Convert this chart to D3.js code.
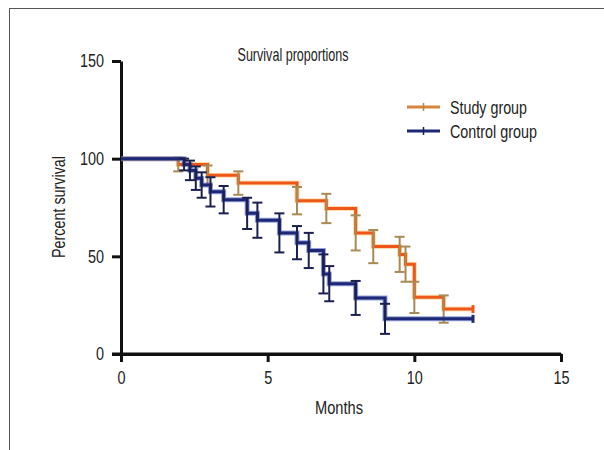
<!DOCTYPE html>
<html>
<head>
<meta charset="utf-8">
<script src="https://cdn.jsdelivr.net/npm/d3@7/dist/d3.min.js"></script>
<style>
  html, body { margin: 0; padding: 0; background: #fff; }
  svg { display: block; }
  text { font-family: "Liberation Sans", Arial, sans-serif; fill: #222; }
</style>
</head>
<body>
<script>
// ---- data ----
const xTicks = [0, 5, 10, 15];
const yTicks = [0, 50, 100, 150];
const seriesNames = ["Study group", "Control group"];

// Study group: step times (months), survival (%) after step, error (±)
const studyTimes = [1.95, 2.95, 4.0, 6.0, 7.0, 8.0, 8.6, 9.5, 9.7, 10.0, 11.0];
const studySurv  = [97, 91.5, 87.5, 78.5, 74.5, 62, 55, 51, 46, 29, 23];
const studyErr   = [3.5, 5, 6, 7, 7.5, 9, 8.5, 9, 9, 8, 7];
const studyEnd = 12;

// Control group
const ctrlTimes = [2.15, 2.35, 2.55, 2.75, 3.05, 3.5, 4.3, 4.65, 5.4, 6.0, 6.4, 6.9, 7.1, 8.0, 9.0];
const ctrlSurv  = [97, 94, 90, 86.5, 83, 79, 72, 68.5, 62, 57, 53, 41, 36, 28.7, 18];
const ctrlErr   = [3, 5, 6, 6.5, 7.5, 7, 8, 9, 10, 8.5, 9, 10, 9, 8.7, 7.7];
const ctrlEnd = 12;

// ---- layout ----
const W = 604, H = 450;
const svg = d3.select("body").append("svg").attr("width", W).attr("height", H);

svg.append("rect").attr("x", 9.5).attr("y", 8.5).attr("width", 640).attr("height", 480)
  .attr("fill", "none").attr("stroke", "#555").attr("stroke-width", 1);

const x = d3.scaleLinear().domain([0, 15]).range([121, 561]);
const y = d3.scaleLinear().domain([0, 150]).range([354, 61]);

function condense(sel, factor) {
  sel.each(function() {
    const n = this.getComputedTextLength();
    d3.select(this).attr("textLength", n * factor).attr("lengthAdjust", "spacingAndGlyphs");
  });
}
function fitWidth(sel, w) {
  sel.attr("textLength", w).attr("lengthAdjust", "spacingAndGlyphs");
}

// axes
const xAxis = d3.axisBottom(x).tickValues(xTicks).tickSize(8).tickPadding(8).tickSizeOuter(0);
const yAxis = d3.axisLeft(y).tickValues(yTicks).tickSize(9).tickPadding(8).tickSizeOuter(0);

const gx = svg.append("g").attr("transform", `translate(0,${y(0)})`).call(xAxis);
const gy = svg.append("g").attr("transform", `translate(${x(0)},0)`).call(yAxis);
[gx, gy].forEach(g => {
  g.select(".domain").attr("stroke", "#111").attr("stroke-width", 3);
  g.selectAll(".tick line").attr("stroke", "#111").attr("stroke-width", 3);
  g.selectAll(".tick text").attr("font-size", 18.5).attr("fill", "#222")
    .style("font-family", '"Liberation Sans", Arial, sans-serif');
  condense(g.selectAll(".tick text"), 0.78);
});
gx.selectAll(".tick text").attr("dy", "0.75em");
svg.append("line").attr("x1", x(0) - 9).attr("x2", x(15)).attr("y1", y(0)).attr("y2", y(0))
  .attr("stroke", "#111").attr("stroke-width", 3);

// labels
fitWidth(svg.append("text").attr("x", 293).attr("y", 61).attr("text-anchor", "middle")
  .attr("font-size", 19).text("Survival proportions"), 111);
fitWidth(svg.append("text").attr("x", 339).attr("y", 414).attr("text-anchor", "middle")
  .attr("font-size", 19).text("Months"), 48);
fitWidth(svg.append("text").attr("transform", "translate(65,207) rotate(-90)").attr("text-anchor", "middle")
  .attr("font-size", 19).text("Percent survival"), 102);

// series
function buildPts(times, surv, end) {
  const pts = [[0, 100]];
  times.forEach((t, i) => pts.push([t, surv[i]]));
  pts.push([end, surv[surv.length - 1]]);
  return pts;
}
const line = d3.line().x(d => x(d[0])).y(d => y(d[1])).curve(d3.curveStepAfter);

const series = [
  { times: ctrlTimes, surv: ctrlSurv, err: ctrlErr, end: ctrlEnd, line: "#1d2877", glow: "#3d55b8", bar: "#1b2050" },
  { times: studyTimes, surv: studySurv, err: studyErr, end: studyEnd, line: "#ee561a", glow: "#f6c46a", bar: "#a98a55" }
];

const order = [series[1], series[0]];
order.forEach(s => {
  const pts = buildPts(s.times, s.surv, s.end);
  const g = svg.append("g");
  g.append("path").attr("d", line(pts)).attr("fill", "none")
    .attr("stroke", s.glow).attr("stroke-opacity", 0.55).attr("stroke-width", 5);
  g.append("path").attr("d", line(pts)).attr("fill", "none")
    .attr("stroke", s.line).attr("stroke-width", 3);
  s.times.forEach((t, i) => {
    const cx = x(t), y1 = y(s.surv[i] + s.err[i]), y2 = y(s.surv[i] - s.err[i]);
    g.append("line").attr("x1", cx).attr("x2", cx).attr("y1", y1).attr("y2", y2)
      .attr("stroke", s.bar).attr("stroke-width", 2);
    [y1, y2].forEach(yy => g.append("line").attr("x1", cx - 5).attr("x2", cx + 5)
      .attr("y1", yy).attr("y2", yy).attr("stroke", s.bar).attr("stroke-width", 2));
  });
  const ey = y(s.surv[s.surv.length - 1]);
  g.append("line").attr("x1", x(s.end)).attr("x2", x(s.end)).attr("y1", ey - 4).attr("y2", ey + 4)
    .attr("stroke", s.line).attr("stroke-width", 3);
});

// legend
const legend = [
  { name: seriesNames[0], line: "#d9843a", bar: "#a98a55", y: 107, w: 77 },
  { name: seriesNames[1], line: "#1d2877", bar: "#1b2050", y: 131, w: 87 }
];
legend.forEach(l => {
  svg.append("line").attr("x1", 407).attr("x2", 440).attr("y1", l.y).attr("y2", l.y)
    .attr("stroke", l.line).attr("stroke-width", 3);
  svg.append("line").attr("x1", 423.5).attr("x2", 423.5).attr("y1", l.y - 4).attr("y2", l.y + 4)
    .attr("stroke", l.bar).attr("stroke-width", 1.5);
  fitWidth(svg.append("text").attr("x", 450).attr("y", l.y + 7).attr("font-size", 19).text(l.name), l.w);
});
</script>
</body>
</html>
